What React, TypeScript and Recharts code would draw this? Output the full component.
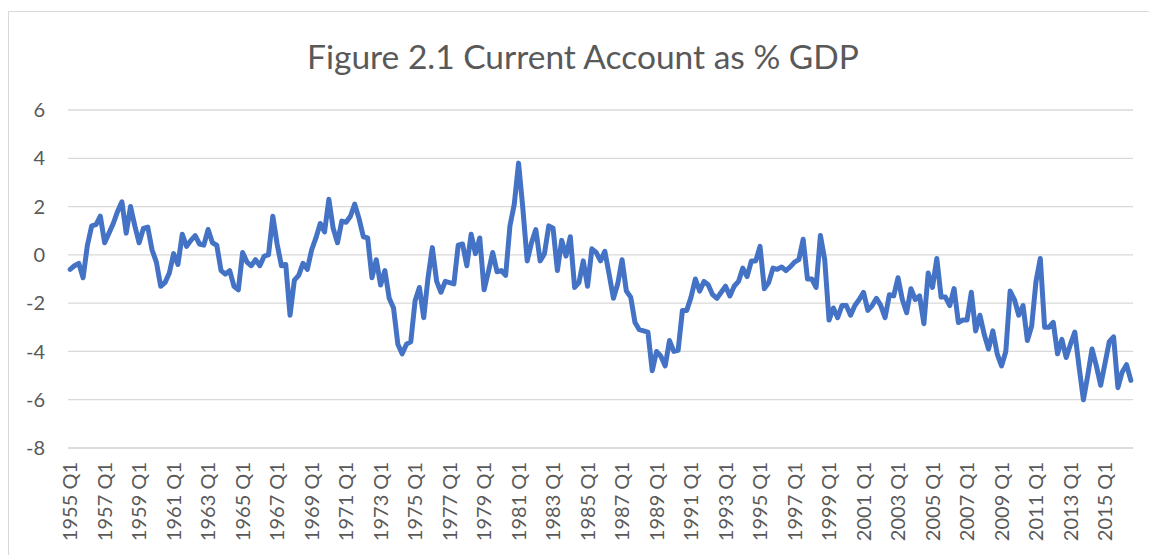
import { LineChart, Line, XAxis, YAxis, CartesianGrid } from "recharts";

// Current account as % of GDP, quarterly (1955 Q1 .. 2016 Q3)
const ca1955to1962 = [-0.6, -0.45, -0.35, -0.95, 0.4, 1.2, 1.25, 1.6, 0.5, 0.9, 1.3, 1.8, 2.2, 0.9, 2.0, 1.2, 0.5, 1.1, 1.15, 0.2, -0.3, -1.3, -1.15, -0.75, 0.05, -0.4, 0.85, 0.35, 0.6, 0.8, 0.45, 0.4];
const ca1963to1970 = [1.05, 0.5, 0.4, -0.65, -0.8, -0.65, -1.3, -1.45, 0.1, -0.3, -0.45, -0.2, -0.45, -0.05, 0.0, 1.6, 0.45, -0.45, -0.4, -2.5, -1.05, -0.85, -0.35, -0.6, 0.2, 0.7, 1.3, 0.95, 2.3, 1.1, 0.5, 1.4];
const ca1971to1978 = [1.35, 1.6, 2.1, 1.5, 0.75, 0.7, -0.95, -0.2, -1.25, -0.65, -1.8, -2.2, -3.7, -4.1, -3.7, -3.6, -1.9, -1.35, -2.6, -0.95, 0.3, -1.1, -1.55, -1.1, -1.15, -1.2, 0.4, 0.45, -0.45, 0.85, 0.05, 0.7];
const ca1979to1986 = [-1.45, -0.7, 0.1, -0.7, -0.65, -0.85, 1.2, 2.1, 3.8, 1.9, -0.25, 0.5, 1.05, -0.25, 0.05, 1.2, 1.1, -0.65, 0.6, -0.05, 0.75, -1.35, -1.15, -0.25, -1.3, 0.25, 0.1, -0.25, 0.15, -0.8, -1.8, -1.2];
const ca1987to1994 = [-0.2, -1.5, -1.75, -2.8, -3.1, -3.15, -3.2, -4.8, -4.0, -4.2, -4.6, -3.55, -4.0, -3.95, -2.3, -2.3, -1.75, -1.0, -1.5, -1.1, -1.25, -1.65, -1.8, -1.55, -1.3, -1.7, -1.3, -1.1, -0.55, -0.9, -0.25, -0.25];
const ca1995to2002 = [0.35, -1.4, -1.15, -0.55, -0.6, -0.5, -0.65, -0.5, -0.3, -0.2, 0.65, -1.0, -1.0, -1.35, 0.8, -0.2, -2.7, -2.2, -2.6, -2.1, -2.1, -2.5, -2.1, -1.85, -1.55, -2.3, -2.1, -1.8, -2.1, -2.6, -1.65, -1.7];
const ca2003to2010 = [-0.95, -1.85, -2.4, -1.4, -1.85, -1.7, -2.85, -0.75, -1.35, -0.15, -1.75, -1.75, -2.1, -1.4, -2.8, -2.7, -2.7, -1.55, -3.15, -2.5, -3.3, -3.9, -3.15, -4.1, -4.6, -4.0, -1.5, -1.85, -2.5, -2.1, -3.55, -2.95];
const ca2011to2016 = [-1.1, -0.15, -3.0, -3.0, -2.8, -4.1, -3.5, -4.25, -3.7, -3.2, -4.65, -6.0, -5.0, -3.9, -4.6, -5.4, -4.5, -3.6, -3.4, -5.5, -4.85, -4.55, -5.2];

const firstYear = 1955;
const quarters = ["Q1", "Q2", "Q3", "Q4"];
const yTicks = [-8, -6, -4, -2, 0, 2, 4, 6];

const values = [
  ...ca1955to1962, ...ca1963to1970, ...ca1971to1978, ...ca1979to1986,
  ...ca1987to1994, ...ca1995to2002, ...ca2003to2010, ...ca2011to2016,
];

const data = values.map((v, i) => ({
  q: `${firstYear + Math.floor(i / 4)} ${quarters[i % 4]}`,
  ca: v,
}));

const FONT = "Lato, 'Open Sans', sans-serif";
const GREY = "#595959";

const XTick = ({ x, payload }: any) => (
  <text
    x={x}
    y={462}
    dy="0.36em"
    transform={`rotate(-90, ${x}, 462)`}
    textAnchor="end"
    fill={GREY}
    fontSize={20}
    fontFamily={FONT}
  >
    {payload.value}
  </text>
);

const YTick = ({ y, payload }: any) => (
  <text x={45} y={y} dy="0.36em" textAnchor="end" fill={GREY} fontSize={20} fontFamily={FONT}>
    {payload.value}
  </text>
);

export default function App() {
  return (
    <div style={{ position: "relative", width: 1149, height: 555, overflow: "hidden", background: "#fff" }}>
      <style>{`body{margin:0;overflow:hidden}`}</style>
      <div
        style={{
          position: "absolute", left: 8, top: 11, width: 1160, height: 600,
          border: "1px solid #d9d9d9", boxSizing: "border-box",
        }}
      />
      <div
        style={{
          position: "absolute", left: 8, top: 35, width: 1150, textAlign: "center",
          fontFamily: FONT, fontSize: 33.5, color: GREY, lineHeight: "42px",
        }}
      >
        Figure 2.1 Current Account as % GDP
      </div>
      <LineChart
        width={1149}
        height={555}
        data={data}
        margin={{ top: 110, right: 16, left: 10, bottom: 7 }}
        style={{ position: "absolute", left: 0, top: 0 }}
      >
        <CartesianGrid vertical={false} stroke="#d9d9d9" strokeWidth={1.3} />
        <XAxis
          dataKey="q"
          interval={7}
          height={100}
          tickLine={false}
          axisLine={{ stroke: "#d9d9d9", strokeWidth: 1.3 }}
          padding={{ left: 2.15, right: 2.15 }}
          tick={<XTick />}
        />
        <YAxis
          domain={[-8, 6]}
          ticks={yTicks}
          width={58}
          axisLine={false}
          tickLine={false}
          tick={<YTick />}
        />
        <Line
          type="linear"
          dataKey="ca"
          stroke="#4472C4"
          strokeWidth={5}
          dot={false}
          strokeLinejoin="round"
          strokeLinecap="round"
          isAnimationActive={false}
        />
      </LineChart>
    </div>
  );
}
